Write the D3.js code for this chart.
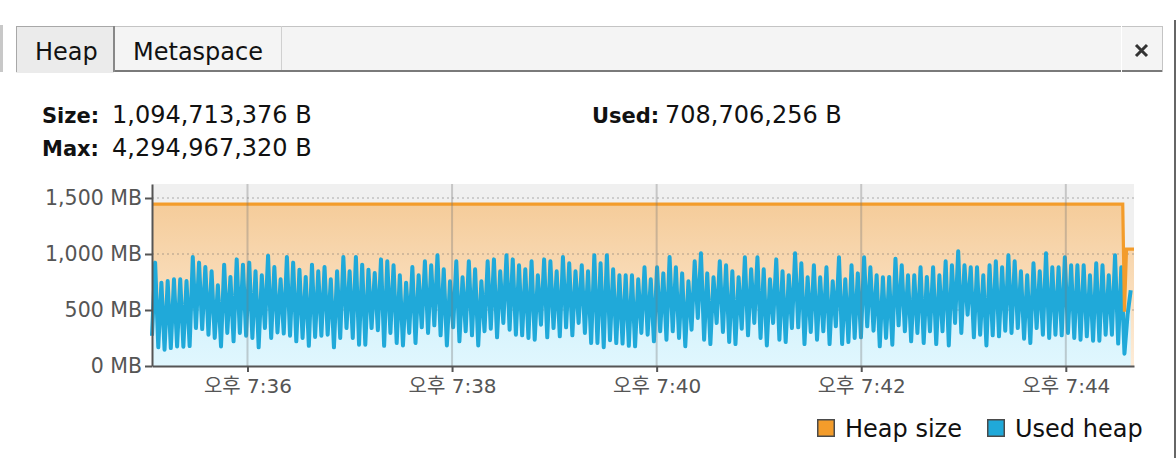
<!DOCTYPE html>
<html>
<head>
<meta charset="utf-8">
<script src="https://cdn.jsdelivr.net/npm/d3@7"></script>
<style>
  body { margin: 0; background: #fff; }
  svg { display: block; font-family: "DejaVu Sans", "Noto Sans CJK KR", sans-serif; }
</style>
</head>
<body>
<div id="chart"></div>
<script>
// header values (bytes)
const heapSizeBytes = 1094713376;
const heapMaxBytes = 4294967320;
const usedHeapBytes = 708706256;

const tabNames = ["Heap", "Metaspace"];
const legendNames = ["Heap size", "Used heap"];

// time axis
const startTime = "19:35:04";
const endTime = "19:44:40";
const xTickTimes = ["19:36", "19:38", "19:40", "19:42", "19:44"];
const yTicks = [0, 500, 1000, 1500];
const yMax = 1625;

// heap size (MB) at seconds after startTime
const heapSizeSec = [0, 569.4, 570.4, 571.6, 576];
const heapSizeMB = [1445, 1445, 485, 1044, 1044];

// used heap (MB), one sample every SAMPLE_SEC seconds from startTime
const SAMPLE_SEC = 1.84;
const usedHeapMB = [
  270,
  923,167, 744,146, 759,160, 774,175, 774,172, 759,178, 973,339, 923,330, 884,280, 845,250,
  720,175, 905,295, 795,220, 952,295, 905,270, 923,250, 845,167, 810,339, 985,250, 884,300,
  774,290, 973,270, 923,220, 860,250, 795,180, 905,260, 845,270, 884,280, 774,167, 845,250,
  973,339, 845,250, 973,190, 905,190, 860,339, 830,320, 952,180,
  935,295, 899,205, 810,184, 744,295, 884,205, 810,345, 935,295, 899,363, 988,274, 863,184,
  756,345, 935,220, 792,310, 935,274, 863,184, 756,310, 935,333, 952,256, 845,384, 988,324,
  952,280, 899,274, 863,250, 935,235, 810,369, 952,256, 935,339, 845,265, 973,345, 917,274,
  845,384, 899,295, 845,205, 988,205, 917,167, 988,230, 863,205, 810,200, 810,180,
  810,176, 774,295, 881,280, 774,220, 881,310, 827,235, 973,310, 881,250, 827,176, 756,324,
  935,429, 1006,235, 827,196, 792,384, 935,304, 899,214, 845,196, 792,333, 970,274, 863,384,
  970,250, 863,184, 774,384, 952,235, 845,214, 810,339, 1006,345, 917,196, 792,304, 899,235,
  792,310, 881,196, 756,354, 970,196, 774,214, 899,250, 827,256, 970,354, 881,315, 810,176,
  792,250,
  795,190, 958,363, 899,310, 810,220, 810,295, 881,205, 795,310, 881,196, 810,310, 935,184,
  899,384, 1024,295, 899,458, 881,256, 881,280, 810,184, 899,274, 935,265, 881,315, 988,295,
  935,339, 845,244, 810,205, 917,339, 845,280, 1006,250, 881,280, 881,274, 970,295, 899,250,
  899,235, 899,265, 810,226, 917,226, 899,280, 810,280, 988,200, 881,110,
  460, 676
];

const W = 1176, H = 458;
const plot = { left: 152, top: 184, right: 1134, bottom: 366 };
const orange = "#f39c2b", blue = "#20a9d9";

const parseT = d3.timeParse("%H:%M:%S");
const parseHM = d3.timeParse("%H:%M");
const t0 = parseT(startTime), t1 = parseT(endTime);
const addSec = s => new Date(t0.getTime() + s * 1000);

const heapData = heapSizeSec.map((s, i) => ({ t: addSec(s), v: heapSizeMB[i] }));
const usedData = usedHeapMB.map((v, i) => ({ t: addSec(i * SAMPLE_SEC), v }));

const svg = d3.select("#chart").append("svg").attr("width", W).attr("height", H);

// ---- tab bar ----
const tabs = svg.append("g");
tabs.append("rect").attr("x", 0).attr("y", 25).attr("width", 3).attr("height", 47).attr("fill", "#c8c8c8");
tabs.append("rect").attr("x", 114).attr("y", 26).attr("width", 1049).attr("height", 45).attr("fill", "#f4f4f4");
tabs.append("line").attr("x1", 114).attr("x2", 1163).attr("y1", 26.5).attr("y2", 26.5).attr("stroke", "#c4c4c4");
tabs.append("line").attr("x1", 115).attr("x2", 1163).attr("y1", 71).attr("y2", 71).attr("stroke", "#7a7a7a").attr("stroke-width", 2);
tabs.append("line").attr("x1", 281.5).attr("x2", 281.5).attr("y1", 26).attr("y2", 70).attr("stroke", "#d0d0d0");
tabs.append("line").attr("x1", 1121.5).attr("x2", 1121.5).attr("y1", 26).attr("y2", 72).attr("stroke", "#fff");
tabs.append("line").attr("x1", 1162.5).attr("x2", 1162.5).attr("y1", 26).attr("y2", 72).attr("stroke", "#c4c4c4");
// selected tab
tabs.append("rect").attr("x", 16.5).attr("y", 26.5).attr("width", 97).attr("height", 46)
  .attr("fill", "#ebebeb").attr("stroke", "#a8a8a8");
tabs.append("line").attr("x1", 16).attr("x2", 114).attr("y1", 72.5).attr("y2", 72.5).attr("stroke", "#ebebeb");
tabs.append("line").attr("x1", 114).attr("x2", 114).attr("y1", 26).attr("y2", 72).attr("stroke", "#888").attr("stroke-width", 2);
tabs.selectAll("text.tab").data(tabNames).enter().append("text")
  .attr("class", "tab")
  .attr("x", (d, i) => i === 0 ? 35 : 133)
  .attr("y", 59.5)
  .attr("font-size", 24)
  .attr("fill", "#111")
  .text(d => d);
// close icon
tabs.append("path").attr("d", "M1136,45 L1147,56 M1147,45 L1136,56")
  .attr("stroke", "#333").attr("stroke-width", 3);
// right window edge
svg.append("line").attr("x1", 1175).attr("x2", 1175).attr("y1", 20).attr("y2", H)
  .attr("stroke", "#666").attr("stroke-width", 2);

// ---- header ----
const fmtInt = d3.format(",");
const header = [
  { label: "Size:", value: heapSizeBytes, x: 42, vx: 112, y: 123 },
  { label: "Used:", value: usedHeapBytes, x: 592, vx: 665, y: 123 },
  { label: "Max:", value: heapMaxBytes, x: 42, vx: 112, y: 156 }
];
const hg = svg.append("g").attr("font-size", 24).attr("fill", "#111");
header.forEach(h => {
  hg.append("text").attr("x", h.x).attr("y", h.y).attr("font-weight", "bold").attr("font-size", 21).text(h.label);
  hg.append("text").attr("x", h.vx).attr("y", h.y).text(fmtInt(h.value) + " B");
});

// ---- chart ----
const x = d3.scaleTime().domain([t0, t1]).range([plot.left, plot.right]);
const y = d3.scaleLinear().domain([0, yMax]).range([plot.bottom, plot.top]);

const defs = svg.append("defs");
const gOr = defs.append("linearGradient").attr("id", "gOrange")
  .attr("gradientUnits", "userSpaceOnUse").attr("x1", 0).attr("x2", 0)
  .attr("y1", y(1445)).attr("y2", y(0));
gOr.append("stop").attr("offset", 0).attr("stop-color", "#f5cc9a");
gOr.append("stop").attr("offset", 1).attr("stop-color", "#fdecd8");
const gBl = defs.append("linearGradient").attr("id", "gBlue")
  .attr("gradientUnits", "userSpaceOnUse").attr("x1", 0).attr("x2", 0)
  .attr("y1", y(1000)).attr("y2", y(0));
gBl.append("stop").attr("offset", 0).attr("stop-color", "#c9ecf9");
gBl.append("stop").attr("offset", 1).attr("stop-color", "#e0f7fe");

svg.append("rect").attr("x", plot.left).attr("y", plot.top)
  .attr("width", plot.right - plot.left).attr("height", plot.bottom - plot.top)
  .attr("fill", "#f0f0f0");

const area = d3.area().x(d => x(d.t)).y0(y(0)).y1(d => y(d.v));
const line = d3.line().x(d => x(d.t)).y(d => y(d.v));

svg.append("path").datum(heapData).attr("d", area).attr("fill", "url(#gOrange)");
svg.append("path").datum(usedData).attr("d", area).attr("fill", "url(#gBlue)");

// horizontal dotted grid
svg.append("g").selectAll("line").data(yTicks.filter(d => d > 0)).enter().append("line")
  .attr("x1", plot.left).attr("x2", plot.right)
  .attr("y1", d => y(d)).attr("y2", d => y(d))
  .attr("stroke", "rgba(110,110,110,0.35)").attr("stroke-width", 1.5)
  .attr("stroke-dasharray", "2,3");

svg.append("path").datum(usedData).attr("d", line)
  .attr("fill", "none").attr("stroke", blue).attr("stroke-width", 4)
  .attr("stroke-linejoin", "round");
svg.append("path").datum(heapData).attr("d", line)
  .attr("fill", "none").attr("stroke", orange).attr("stroke-width", 3.2);

const xTicks = xTickTimes.map(parseHM).map(d => {
  const t = new Date(t0); t.setHours(d.getHours(), d.getMinutes(), 0, 0); return t;
});

// vertical grid
svg.append("g").selectAll("line").data(xTicks).enter().append("line")
  .attr("x1", d => x(d)).attr("x2", d => x(d))
  .attr("y1", plot.top).attr("y2", plot.bottom)
  .attr("stroke", "rgba(120,120,120,0.35)").attr("stroke-width", 2);

const fmtKo = d => (d.getHours() >= 12 ? "오후 " : "오전 ") + (d.getHours() % 12 || 12) + ":" + d3.timeFormat("%M")(d);

const xAxis = svg.append("g").attr("transform", `translate(0,${plot.bottom})`)
  .call(d3.axisBottom(x).tickValues(xTicks).tickSize(6).tickSizeOuter(0).tickFormat(fmtKo));
xAxis.selectAll("text").attr("y", 27).attr("dy", null)
  .attr("font-size", 20).attr("fill", "#555")
  .attr("font-family", "'DejaVu Sans', 'Noto Sans CJK KR', sans-serif");

const yAxis = svg.append("g").attr("transform", `translate(${plot.left},0)`)
  .call(d3.axisLeft(y).tickValues(yTicks).tickSize(7).tickPadding(3).tickSizeOuter(0)
    .tickFormat(d => fmtInt(d) + " MB"));
yAxis.selectAll("text").attr("font-size", 20.5).attr("fill", "#555")
  .attr("font-family", "'DejaVu Sans', sans-serif");

[xAxis, yAxis].forEach(a => {
  a.select(".domain").attr("stroke", "#555").attr("stroke-width", 2);
  a.selectAll(".tick line").attr("stroke", "#555").attr("stroke-width", 2);
});

// ---- legend ----
const legend = svg.append("g");
[orange, blue].forEach((c, i) => {
  const lx = i === 0 ? 817 : 987;
  legend.append("rect").attr("x", lx + 0.75).attr("y", 419.75).attr("width", 16.5).attr("height", 16.5)
    .attr("fill", c).attr("stroke", "#4a4a4a").attr("stroke-width", 1.5);
  legend.append("text").attr("x", lx + 28).attr("y", 437).attr("font-size", 24).attr("fill", "#111")
    .text(legendNames[i]);
});
</script>
</body>
</html>
